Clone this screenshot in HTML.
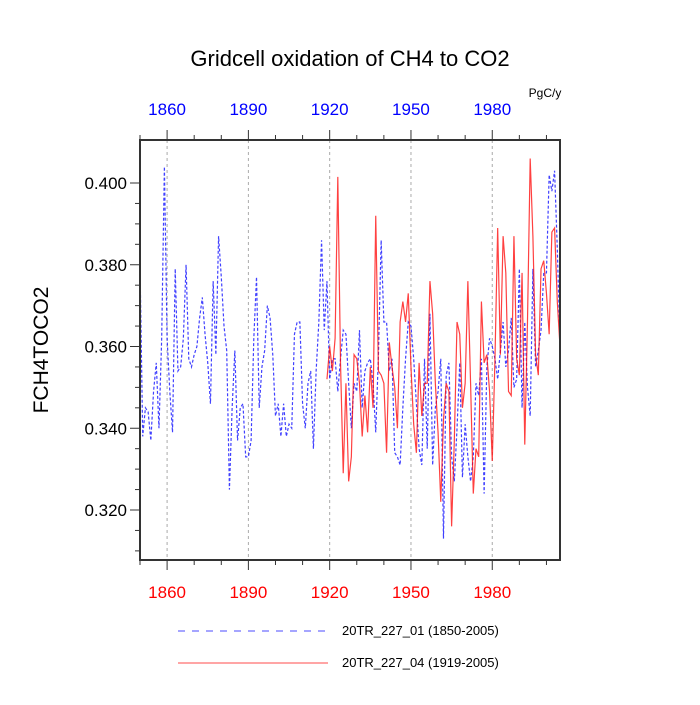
<!DOCTYPE html>
<html><head><meta charset="utf-8"><style>
body{margin:0;background:#fff}
svg text{font-family:"Liberation Sans",sans-serif}
</style></head><body>
<svg id="chart" width="700" height="700" viewBox="0 0 700 700">
<text x="350" y="66" text-anchor="middle" font-size="22">Gridcell oxidation of CH4 to CO2</text>
<text x="545" y="97" text-anchor="middle" font-size="12">PgC/y</text>
<text transform="translate(48,350) rotate(-90)" text-anchor="middle" font-size="21">FCH4TOCO2</text>
<g id="grid"></g>
<g id="series"></g>
<g id="axes"></g>
<g>
<line x1="178" y1="631" x2="328" y2="631" stroke="#0000ff" stroke-width="1" stroke-dasharray="7,7" opacity="0.7"/>
<text x="342" y="635" font-size="13">20TR_227_01 (1850-2005)</text>
<line x1="178" y1="663" x2="328" y2="663" stroke="#ff0000" stroke-width="1" opacity="0.7"/>
<text x="342" y="667" font-size="13">20TR_227_04 (1919-2005)</text>
</g>
</svg>
<script>
const blueStart = 1850;
const blueValues = [0.380,0.338,0.345,0.344,0.337,0.349,0.356,0.340,0.362,0.404,0.362,0.349,0.339,0.379,0.354,0.355,0.362,0.380,0.357,0.355,0.358,0.360,0.367,0.372,0.363,0.356,0.346,0.376,0.358,0.387,0.377,0.365,0.359,0.325,0.345,0.359,0.337,0.345,0.346,0.333,0.333,0.337,0.362,0.377,0.345,0.355,0.359,0.370,0.367,0.358,0.343,0.346,0.338,
0.346,0.338,0.341,0.340,0.363,0.366,0.366,0.346,0.340,0.351,0.354,0.335,0.354,0.366,0.386,0.364,0.376,0.352,0.357,0.357,0.349,0.357,0.364,0.363,0.351,0.340,0.351,0.349,0.364,0.345,0.354,0.356,0.357,0.351,0.339,0.358,0.386,0.366,0.366,0.354,0.357,0.334,0.333,0.331,0.345,0.357,0.366,0.365,0.357,0.346,0.335,0.331,
0.357,0.335,0.368,0.331,0.345,0.349,0.357,0.313,0.353,0.356,0.333,0.327,0.340,0.356,0.328,0.341,0.333,0.327,0.333,0.351,0.348,0.357,0.324,0.355,0.362,0.360,0.357,0.352,0.359,0.366,0.355,0.359,0.367,0.350,0.352,0.379,0.345,0.366,0.350,0.343,0.379,0.355,0.359,0.364,0.378,0.378,0.402,0.398,0.403,0.384,0.361];
const redStart = 1919;
const redValues = [0.352,0.360,0.354,0.362,0.4015,0.356,0.329,0.351,0.327,0.333,0.358,0.357,0.351,0.338,0.348,0.339,0.355,0.345,0.392,0.354,0.353,0.351,0.334,0.361,0.355,0.350,0.340,0.366,0.371,0.366,0.373,0.355,0.341,0.334,0.356,0.343,
0.351,0.351,0.376,0.368,0.351,0.339,0.322,0.342,0.351,0.349,0.316,0.337,0.366,0.363,0.345,0.351,0.376,0.351,0.324,0.335,0.333,0.371,0.356,0.358,0.349,0.332,0.357,0.389,0.358,0.387,0.378,0.349,0.348,0.387,0.357,0.353,0.378,0.336,0.366,0.406,0.387,0.358,0.353,0.379,0.381,0.373,0.363,0.388,0.389,0.371,0.360];
const xTickYears = [1860,1890,1920,1950,1980];
const yTickValues = [0.320,0.340,0.360,0.380,0.400];

const L=140,R=560,T=140,B=560;
const xMin=1850,xMax=2005;
const xs = y => L + (y - xMin) * (R - L) / (xMax - xMin);
const ys = v => 510 - (v - 0.320) * (327 / 0.08);
const NS="http://www.w3.org/2000/svg";
function mk(tag, attrs, parent){const e=document.createElementNS(NS,tag);for(const k in attrs)e.setAttribute(k,attrs[k]);parent.appendChild(e);return e;}
const grid=document.getElementById('grid'), series=document.getElementById('series'), axes=document.getElementById('axes');

xTickYears.forEach(yr=>{
  const g=mk('line',{x1:xs(yr),x2:xs(yr),y1:T,y2:B,stroke:'#aaa','stroke-width':1,'stroke-dasharray':'3,3'},grid);
  
  
});

function drawLine(start, vals, color, dash, name){
  const pts = vals.map((v,i)=>xs(start+i).toFixed(2)+','+ys(v).toFixed(2)).join(' ');
  const attrs={points:pts,fill:'none',stroke:color,'stroke-width':1.2,opacity:0.75};
  if(dash) attrs['stroke-dasharray']=dash;
  const p=mk('polyline',attrs,series);
  
  
}
drawLine(blueStart, blueValues, '#0000ff', '3,2', 'series-run01');
drawLine(redStart, redValues, '#ff0000', null, 'series-run04');

const frame=mk('rect',{x:L,y:T,width:R-L,height:B-T,fill:'none',stroke:'#333','stroke-width':2},axes);



for(let yr=1850; yr<=2005; yr+=10){
  const major = xTickYears.includes(yr);
  const len = major?10:5;
  mk('line',{x1:xs(yr),x2:xs(yr),y1:B,y2:B+len,stroke:'#333','stroke-width':1},axes);
  mk('line',{x1:xs(yr),x2:xs(yr),y1:T,y2:T-len,stroke:'#333','stroke-width':1},axes);
}
xTickYears.forEach(yr=>{
  const b=mk('text',{x:xs(yr),y:B+38,'text-anchor':'middle','font-size':17,fill:'#ff0000'},axes);
  b.textContent=yr;
  
  
  const t=mk('text',{x:xs(yr),y:T-25,'text-anchor':'middle','font-size':17,fill:'#0000ff'},axes);
  t.textContent=yr;
  
  
});
for(let k=0;k<=18;k++){
  const v=0.310+k*0.005;
  const y=ys(v);
  if(y<T||y>B) continue;
  const major = (k%4)===2;
  mk('line',{x1:L,x2:L-(major?10:5),y1:y,y2:y,stroke:'#333','stroke-width':1},axes);
}
yTickValues.forEach(v=>{
  const t=mk('text',{x:L-13,y:ys(v)+6,'text-anchor':'end','font-size':17},axes);
  t.textContent=v.toFixed(3);
  
  
});
</script>
</body></html>
